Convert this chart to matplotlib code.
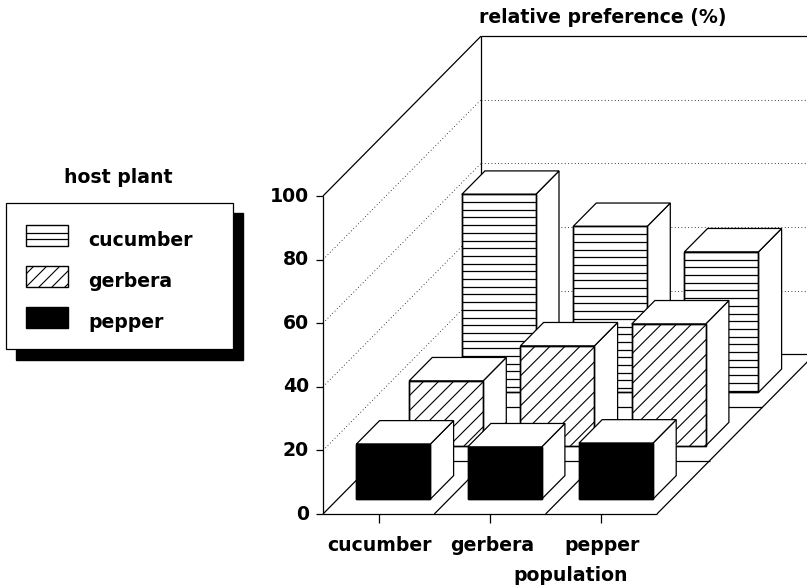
import numpy as np
import matplotlib
matplotlib.use("Agg")
import matplotlib.pyplot as plt
from matplotlib.patches import Polygon, Rectangle

populations = ["cucumber", "gerbera", "pepper"]
hosts = ["pepper", "gerbera", "cucumber"]  # front row to back row
pepper = [17.3, 16.4, 17.6]
gerbera = [20.4, 31.4, 38.3]
cucumber = [62.3, 52.2, 44.2]
y_ticks = [0, 20, 40, 60, 80, 100]

# oblique projection, pixel positions of the drawing
X0, Y0 = 323, 514
CAT_W = 111.3
ROW_X, ROW_Y = 52.7, 53.3
PER_PCT = 3.18
BAR_W = 0.665
BAR_D = 0.44
FONT = dict(family="DejaVu Sans", fontweight="bold", color="black", fontsize=13.6)


def proj(cat, row, val):
    return (X0 + cat * CAT_W + row * ROW_X, Y0 - row * ROW_Y - val * PER_PCT)


def line(ax, a, b, lw=0.9, ls="-", z=1):
    ax.plot([a[0], b[0]], [a[1], b[1]], color="black", lw=lw, ls=ls, zorder=z,
            solid_capstyle="butt")


def hatch_lines(ax, poly, kind, z):
    xs, ys = poly.get_xy()[:, 0], poly.get_xy()[:, 1]
    if kind == "cucumber":
        for y in np.arange(ys.min() + 7.7, ys.max(), 7.7):
            l, = ax.plot([xs.min(), xs.max()], [y, y], color="black", lw=0.9, zorder=z)
            l.set_clip_path(poly)
    elif kind == "gerbera":
        for c in np.arange(xs.min(), xs.max() + ys.max() - ys.min(), 15):
            l, = ax.plot([c - (ys.max() - ys.min()), c], [ys.max(), ys.min()],
                         color="black", lw=0.8, zorder=z)
            l.set_clip_path(poly)


def draw_bar(ax, cat, row, val, kind, z):
    x0 = cat + (1 - BAR_W) / 2
    x1 = x0 + BAR_W
    r0 = row + (1 - BAR_D) / 2
    r1 = r0 + BAR_D
    front = [proj(x0, r0, 0), proj(x1, r0, 0), proj(x1, r0, val), proj(x0, r0, val)]
    side = [proj(x1, r0, 0), proj(x1, r1, 0), proj(x1, r1, val), proj(x1, r0, val)]
    top = [proj(x0, r0, val), proj(x1, r0, val), proj(x1, r1, val), proj(x0, r1, val)]
    for pts in (side, top):
        ax.add_patch(Polygon(pts, fc="white", ec="black", lw=0.9, zorder=z))
    face = "black" if kind == "pepper" else "white"
    poly = Polygon(front, fc=face, ec="black", lw=1.0, zorder=z)
    ax.add_patch(poly)
    hatch_lines(ax, poly, kind, z + 0.1)
    ax.add_patch(Polygon(front, fc="none", ec="black", lw=1.0, zorder=z + 0.2))


fig = plt.figure(figsize=(8.07, 5.87), dpi=100)
ax = fig.add_axes([0, 0, 1, 1])
ax.set_xlim(0, 807)
ax.set_ylim(587, 0)
ax.axis("off")

# walls and gridlines
line(ax, proj(0, 0, 0), proj(0, 0, 100))
line(ax, proj(0, 0, 100), proj(0, 3, 100))
line(ax, proj(0, 3, 0), proj(0, 3, 100))
line(ax, proj(0, 3, 100), proj(3, 3, 100))
for v in y_ticks[1:-1]:
    line(ax, proj(0, 0, v), proj(0, 3, v), lw=0.6, ls=(0, (1, 3)))
    line(ax, proj(0, 3, v), proj(3, 3, v), lw=0.6, ls=(0, (1, 3)))
for v in y_ticks:
    a = proj(0, 0, v)
    line(ax, (a[0] - 7, a[1]), a)
    ax.text(a[0] - 14, a[1], str(v), ha="right", va="center", **FONT)

# floor
line(ax, proj(0, 0, 0), proj(3, 0, 0))
for c in range(4):
    line(ax, proj(c, 0, 0), proj(c, 3, 0))
for r in range(1, 4):
    line(ax, proj(0, r, 0), proj(3, r, 0))
label_x = [380, 492, 602]
for c, name in enumerate(populations):
    a = proj(c + 0.5, 0, 0)
    line(ax, a, (a[0], a[1] + 9))
    ax.text(label_x[c], a[1] + 37, name, ha="center", va="baseline", **FONT)

# bars, back row first
series = {"pepper": pepper, "gerbera": gerbera, "cucumber": cucumber}
for row in (2, 1, 0):
    name = hosts[row]
    for cat, val in enumerate(series[name]):
        draw_bar(ax, cat, row, val, name, 10 + (2 - row))

ax.text(603, 23, "relative preference (%)", ha="center", va="baseline", **FONT)
ax.text(571, 581, "population", ha="center", va="baseline", **FONT)

# legend with drop shadow
ax.text(118, 183, "host plant", ha="center", va="baseline", **FONT)
ax.add_patch(Rectangle((16, 213), 227, 147, fc="black", ec="black", zorder=20))
ax.add_patch(Rectangle((6, 203), 227, 146, fc="white", ec="black", lw=0.9, zorder=21))
for i, name in enumerate(hosts[::-1]):
    y = 225 + i * 41
    face = "black" if name == "pepper" else "white"
    sw = Rectangle((26, y), 42, 21, fc=face, ec="black", lw=1.0, zorder=22)
    ax.add_patch(sw)
    if name == "cucumber":
        for yy in (y + 8, y + 14):
            line(ax, (26, yy), (68, yy), z=23)
    elif name == "gerbera":
        for c in range(26 + 8, 68 + 21, 13):
            l, = ax.plot([c - 21, c], [y + 21, y], color="black", lw=0.8, zorder=23)
            l.set_clip_path(sw)
    ax.text(88, y + 21, name, ha="left", va="baseline", zorder=23, **FONT)

fig.savefig("out.png", dpi=100)
